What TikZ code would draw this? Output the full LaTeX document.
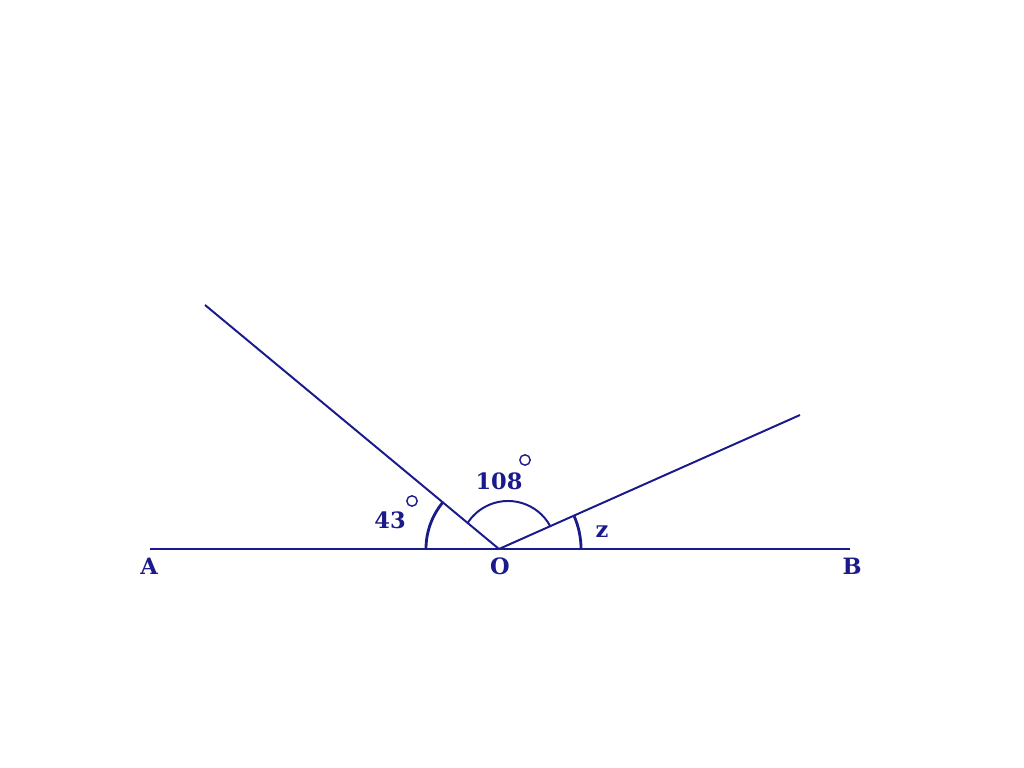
\documentclass[tikz,border=0pt]{standalone}
\usepackage{fontspec}
\newfontfamily\labelfont{DejaVu Serif}[BoldFont={DejaVu Serif Bold}]
\usepackage{tikz}
\definecolor{navy}{RGB}{26,26,139}

\begin{document}
\begin{tikzpicture}[x=0.025cm, y=0.025cm,
  ray/.style={draw=navy, line width=1.4pt},
  mark43/.style={draw=navy, line width=2pt},
  markin/.style={draw=navy, line width=1.4pt},
  lbl/.style={text=navy, font=\labelfont\bfseries\fontsize{16}{19}\selectfont, inner sep=0pt},
  deg/.style={draw=navy, circle, line width=1pt, minimum size=0.26cm, inner sep=0pt},
]
  \useasboundingbox (0,0) rectangle (1024,768);
  % points
  \coordinate (O) at (499,219);
  \coordinate (A) at (150,219);
  \coordinate (B) at (850,219);
  \coordinate (P) at (205,463);
  \coordinate (Q) at (800,353);
  % lines
  \draw[ray] (A) -- (B);
  \draw[ray] (O) -- (P);
  \draw[ray] (O) -- (Q);
  % angle marks
  \draw[mark43] (O) ++(140.3:1.825cm) arc[start angle=140.3, end angle=180, radius=1.825cm];
  \draw[mark43] (O) ++(0:2.05cm) arc[start angle=0, end angle=23.5, radius=2.05cm];
  \coordinate (C) at (508,219);
  \draw[markin] (C) ++(28.4:1.2cm) arc[start angle=28.4, end angle=147.2, radius=1.2cm];
  % labels
  \node[lbl] (labA) at (149,202) {A};
  \node[lbl] (labO) at (500,202) {O};
  \node[lbl] (labB) at (852,202) {B};
  \node[lbl] (lab43) at (390,248) {43};
  \node[deg] (deg43) at (412,267) {};
  \node[lbl] (lab108) at (499,287) {108};
  \node[deg] (deg108) at (525,308) {};
  \node[lbl] (labz) at (602,236) {z};
\end{tikzpicture}
\end{document}
